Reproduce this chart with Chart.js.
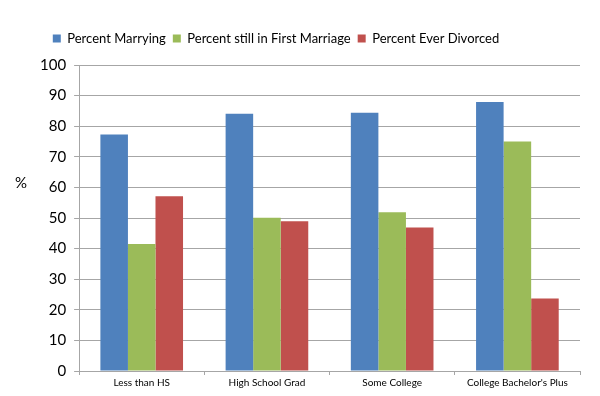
<!DOCTYPE html>
<html>
<head>
<meta charset="utf-8">
<script src="https://cdn.jsdelivr.net/npm/chart.js@4"></script>
<style>
  html, body { margin: 0; padding: 0; background: #fff; }
  #wrap { width: 600px; height: 396px; position: relative; }
</style>
</head>
<body>
<div id="wrap"><canvas id="chart"></canvas></div>
<script>
// Data
const categories = ['Less than HS', 'High School Grad', 'Some College', "College Bachelor's Plus"];
const seriesNames = ['Percent Marrying', 'Percent still in First Marriage', 'Percent Ever Divorced'];
const marrying = [77.3, 84.1, 84.4, 87.9];
const firstMarriage = [41.5, 50.1, 51.9, 75];
const everDivorced = [57.1, 48.9, 46.9, 23.7];
const yTicks = [0, 10, 20, 30, 40, 50, 60, 70, 80, 90, 100];

const colors = {
  blue: '#4f81bd',
  green: '#9bbb59',
  red: '#c0504d',
  grid: '#a6a6a6',
  text: '#000000'
};

const FONT = 'Lato, "Open Sans", sans-serif';

// draws the horizontal "%" label left of the y axis
const percentLabel = {
  id: 'percentLabel',
  afterDraw(chart) {
    const { ctx, chartArea } = chart;
    ctx.save();
    ctx.fillStyle = colors.text;
    ctx.font = '15px ' + FONT;
    ctx.textAlign = 'center';
    ctx.textBaseline = 'middle';
    ctx.fillText('%', 21, (chartArea.top + chartArea.bottom) / 2 - 35);
    ctx.restore();
  }
};

// a bit more room under the legend, and shift it left like the original
const legendTweak = {
  id: 'legendTweak',
  beforeInit(chart) {
    const fit = chart.legend.fit;
    chart.legend.fit = function () {
      fit.call(this);
      this.height += 10;
    };
  },
  afterLayout(chart) {
    chart.legend.left -= 30;
    chart.legend.right -= 30;
  }
};

function makeSet(label, data, color) {
  return {
    label: label,
    data: data,
    backgroundColor: color,
    borderColor: color,
    borderWidth: 0,
    barPercentage: 1.0,
    categoryPercentage: 0.66
  };
}

new Chart(document.getElementById('chart'), {
  type: 'bar',
  data: {
    labels: categories,
    datasets: [
      makeSet(seriesNames[0], marrying, colors.blue),
      makeSet(seriesNames[1], firstMarriage, colors.green),
      makeSet(seriesNames[2], everDivorced, colors.red)
    ]
  },
  options: {
    responsive: true,
    maintainAspectRatio: false,
    animation: false,
    layout: { padding: { left: 32, right: 20, top: 25, bottom: 5 } },
    plugins: {
      legend: {
        position: 'top',
        labels: {
          color: colors.text,
          font: { family: FONT, size: 13 },
          boxWidth: 8,
          boxHeight: 8,
          padding: 7
        }
      },
      tooltip: { enabled: false }
    },
    scales: {
      x: {
        grid: { display: true, drawOnChartArea: false, drawTicks: true, tickLength: 4, color: colors.grid },
        border: { color: colors.grid },
        ticks: { color: colors.text, font: { family: FONT, size: 10 }, padding: 2 }
      },
      y: {
        min: 0,
        max: 100,
        afterBuildTicks: axis => { axis.ticks = yTicks.map(v => ({ value: v })); },
        grid: { color: colors.grid, tickLength: 5 },
        border: { color: colors.grid },
        ticks: { color: colors.text, font: { family: FONT, size: 15 }, padding: 8 }
      }
    }
  },
  plugins: [percentLabel, legendTweak]
});
</script>
</body>
</html>
